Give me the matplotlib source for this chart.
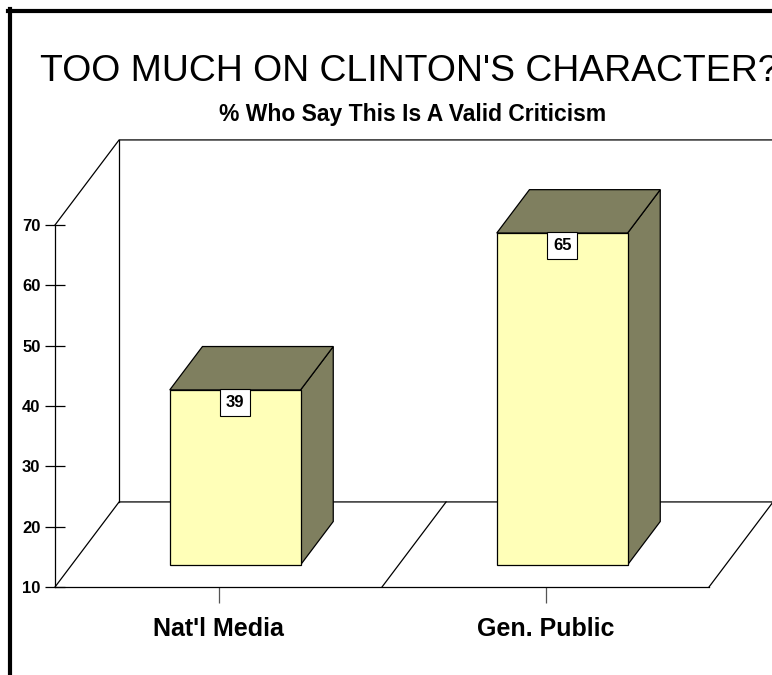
import matplotlib.pyplot as plt
from matplotlib.patches import Polygon
from matplotlib.lines import Line2D

# chart data
categories = ["Nat'l Media", "Gen. Public"]
values = [39, 65]
yticks = [10, 20, 30, 40, 50, 60, 70]

title = "TOO MUCH ON CLINTON'S CHARACTER?"
subtitle = "% Who Say This Is A Valid Criticism"

# 3d look: depth offset (in data units) of the floor and where bars sit in it
depth_dx = 0.196
depth_dy = 14.1
bar_front = 0.26
bar_back = 0.77
bar_half = 0.2

front_color = '#FFFFB8'
side_color = '#7F7F5F'

plt.rcParams['font.family'] = ['Liberation Sans', 'DejaVu Sans']

fig = plt.figure(figsize=(7.72, 6.75), dpi=100)
ax = fig.add_axes([55 / 772, 88 / 675, 654 / 772, 362 / 675])
ax.set_xlim(0, len(categories))
ax.set_ylim(yticks[0], yticks[-1])
ax.patch.set_alpha(0)

ymin, ymax = yticks[0], yticks[-1]
nx = len(categories)


def proj(x, y, d):
    return (x + d * depth_dx, y + d * depth_dy)


def line(pts, **kw):
    xs = [p[0] for p in pts]
    ys = [p[1] for p in pts]
    ax.add_line(Line2D(xs, ys, color='black', lw=0.9, clip_on=False, **kw))


# walls and floor
line([proj(0, ymin, 0), proj(0, ymin, 1), proj(nx, ymin, 1), proj(nx, ymin, 0)])
line([proj(0, ymax, 0), proj(0, ymax, 1), proj(nx, ymax, 1), proj(nx, ymin, 1)])
line([proj(0, ymin, 1), proj(0, ymax, 1)])
for i in range(1, nx):
    line([proj(i, ymin, 0), proj(i, ymin, 1)])

# bars
for i, v in enumerate(values):
    cx = i + 0.5
    x0, x1 = cx - bar_half, cx + bar_half
    front = [proj(x0, ymin, bar_front), proj(x1, ymin, bar_front),
             proj(x1, v, bar_front), proj(x0, v, bar_front)]
    top = [proj(x0, v, bar_front), proj(x1, v, bar_front),
           proj(x1, v, bar_back), proj(x0, v, bar_back)]
    side = [proj(x1, ymin, bar_front), proj(x1, ymin, bar_back),
            proj(x1, v, bar_back), proj(x1, v, bar_front)]
    for pts, col in [(side, side_color), (top, side_color), (front, front_color)]:
        ax.add_patch(Polygon(pts, closed=True, facecolor=col, edgecolor='black',
                             lw=0.9, clip_on=False, zorder=3))
    lx, ly = proj(cx, v, bar_front)
    ax.annotate(str(v), (lx, ly), xytext=(0, -9), textcoords='offset points',
                ha='center', va='center', fontsize=12, fontweight='bold', zorder=5,
                bbox=dict(boxstyle='square,pad=0.35', facecolor='white',
                          edgecolor='black', lw=0.8))

# axes styling
for s in ['top', 'right']:
    ax.spines[s].set_visible(False)
ax.spines['left'].set_linewidth(0.9)
ax.spines['bottom'].set_linewidth(0.9)
ax.set_yticks(yticks)
ax.set_yticklabels([str(t) for t in yticks], fontsize=12, fontweight='bold')
ax.tick_params(axis='y', direction='inout', length=15, width=0.9, pad=3)
ax.set_xticks([i + 0.5 for i in range(nx)])
ax.set_xticklabels(categories, fontsize=18, fontweight='bold')
ax.tick_params(axis='x', direction='out', length=11.5, width=0.9,
               color='#555555', pad=10)

# titles
fig.text(40 / 772, 1 - 81 / 675, title, fontsize=26.9, ha='left', va='baseline')
fig.text(413 / 772, 1 - 115 / 675, subtitle, fontsize=16.5, fontweight='bold',
         ha='center', va='center')

# frame
fig.add_artist(Line2D([10 / 772, 10 / 772], [0, 1 - 9 / 675], color='black',
                      lw=3, transform=fig.transFigure))
fig.add_artist(Line2D([8 / 772, 1], [1 - 11 / 675, 1 - 11 / 675], color='black',
                      lw=3, transform=fig.transFigure))

fig.savefig('out.png', dpi=100)
